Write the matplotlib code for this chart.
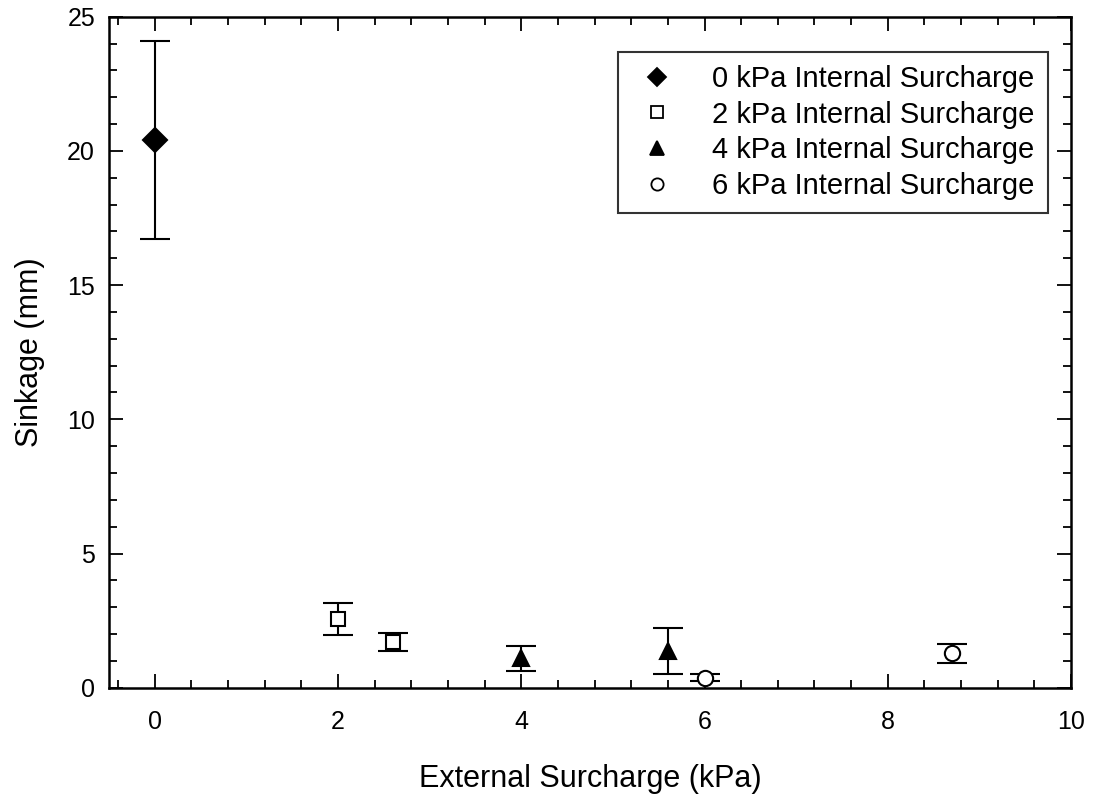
import numpy as np
import matplotlib
matplotlib.use('Agg')
import matplotlib.pyplot as plt
from matplotlib.ticker import MultipleLocator

plt.rcParams['font.family'] = ['Liberation Sans', 'DejaVu Sans']

# data
labels = ['0 kPa Internal Surcharge', '2 kPa Internal Surcharge',
          '4 kPa Internal Surcharge', '6 kPa Internal Surcharge']
x0 = [0.0];       y0 = [20.4];       e0 = [3.7]
x2 = [2.0, 2.6];  y2 = [2.56, 1.70]; e2 = [0.60, 0.34]
x4 = [4.0, 5.6];  y4 = [1.10, 1.38]; e4 = [0.47, 0.86]
x6 = [6.0, 8.7];  y6 = [0.38, 1.28]; e6 = [0.12, 0.36]

fig = plt.figure(figsize=(10.93, 8), dpi=100)
ax = fig.add_axes([109/1093, 1-687.7/800, 962/1093, 671/800])

styles = [('D', 'black', 12), ('s', 'white', 10), ('^', 'black', 12), ('o', 'white', 11)]
series = [(x0, y0, e0), (x2, y2, e2), (x4, y4, e4), (x6, y6, e6)]
handles = []
for (x, y, e), (m, fc, ms), lab in zip(series, styles, labels):
    ax.errorbar(x, y, yerr=e, fmt='none', ecolor='black', elinewidth=1.5,
                capsize=11, capthick=1.5, zorder=2)
    ax.plot(x, y, linestyle='none', marker=m, markerfacecolor=fc,
            markeredgecolor='black', markeredgewidth=1.5, markersize=ms, zorder=3)
    h, = ax.plot([], [], linestyle='none', marker=m, markerfacecolor=fc,
                 markeredgecolor='black', markeredgewidth=1.3, markersize=ms * 0.8)
    handles.append(h)

ax.set_xlim(-0.5, 10)
ax.set_ylim(0, 25)
ax.xaxis.set_major_locator(MultipleLocator(2))
ax.xaxis.set_minor_locator(MultipleLocator(0.4))
ax.yaxis.set_major_locator(MultipleLocator(5))
ax.yaxis.set_minor_locator(MultipleLocator(1))
ax.tick_params(which='both', direction='in', top=True, right=True,
               labelsize=18, width=1.3)
ax.tick_params(axis='x', pad=16)
ax.tick_params(axis='y', pad=10)
ax.tick_params(which='major', length=10)
ax.tick_params(which='minor', length=6)
for s in ax.spines.values():
    s.set_linewidth(1.8)

ax.set_xlabel('External Surcharge (kPa)', fontsize=22, labelpad=22)
ax.set_ylabel('Sinkage (mm)', fontsize=22, labelpad=16)

leg = ax.legend(handles, labels, loc='upper right', bbox_to_anchor=(0.976, 0.948),
                fontsize=21, frameon=True, fancybox=False, edgecolor='black',
                borderpad=0.45, handletextpad=1.0, labelspacing=0.27,
                borderaxespad=0, handlelength=1.8)
leg.get_frame().set_linewidth(1.5)

fig.savefig('out.png', dpi=100)
